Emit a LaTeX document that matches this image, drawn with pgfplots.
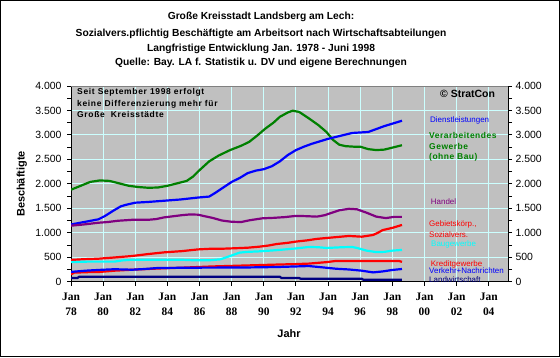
\documentclass[border=0pt]{standalone}
\usepackage{pgfplots}
\pgfplotsset{compat=1.18}
\usepackage{fontspec}
\setmainfont{Liberation Sans}
\newfontfamily\serifb{Liberation Serif}
\newfontfamily\widebold[LetterSpace=6]{Liberation Sans}
\newfontfamily\notebold[LetterSpace=8]{Liberation Sans}
\definecolor{plotgray}{RGB}{192,192,192}
\definecolor{gridcyan}{RGB}{204,255,255}
\definecolor{dgreen}{RGB}{0,128,0}
\definecolor{dpurple}{RGB}{128,0,128}
\definecolor{dnavy}{RGB}{0,0,128}
\definecolor{pcyan}{RGB}{0,255,255}
\definecolor{pblue}{RGB}{0,0,255}
\definecolor{pred}{RGB}{255,0,0}
\definecolor{bordergray}{RGB}{128,128,128}

\pgfplotstableread{
x y
78.0 1880
78.6 1960
79.2 2040
79.8 2070
80.4 2060
81.0 2010
81.6 1960
82.2 1935
82.8 1920
83.4 1925
84.0 1960
84.6 2010
85.2 2060
85.6 2150
86.0 2280
86.6 2460
87.2 2580
87.9 2690
88.6 2780
89.1 2860
89.6 2990
90.1 3130
90.6 3250
91.0 3370
91.5 3460
91.8 3495
92.2 3470
92.8 3340
93.4 3200
93.9 3060
94.3 2900
94.7 2800
95.1 2770
95.6 2760
96.0 2760
96.5 2710
97.0 2690
97.5 2700
98.0 2740
98.6 2790
}\verarb

\pgfplotstableread{
x y
78.0 1170
78.9 1225
79.7 1275
80.1 1340
80.7 1465
81.1 1540
81.4 1570
82.0 1615
82.8 1630
83.8 1655
84.8 1680
85.9 1720
86.6 1740
87.0 1820
87.5 1930
88.0 2040
88.5 2120
89.0 2220
89.5 2270
90.0 2300
90.5 2360
91.0 2460
91.5 2590
92.0 2690
92.5 2760
93.0 2820
93.5 2870
94.0 2920
94.5 2960
95.0 3000
95.5 3040
96.0 3050
96.5 3060
97.0 3120
97.5 3180
98.0 3230
98.6 3290
}\dienst

\pgfplotstableread{
x y
78.0 1145
78.8 1170
79.7 1205
80.3 1220
80.9 1245
81.8 1265
82.8 1265
83.3 1280
83.8 1315
84.3 1335
84.9 1360
85.4 1375
85.9 1370
86.3 1340
86.8 1305
87.4 1250
88.0 1225
88.6 1220
89.1 1255
89.9 1295
90.6 1305
91.3 1320
92.0 1345
92.6 1340
93.3 1330
93.8 1360
94.1 1395
94.7 1460
95.3 1490
95.8 1480
96.4 1410
97.0 1330
97.6 1300
98.1 1325
98.6 1325
}\handel

\pgfplotstableread{
x y
78.0 445
78.8 460
79.7 470
80.7 495
81.8 525
82.8 565
83.8 600
84.9 625
85.9 660
86.8 675
87.5 675
88.3 685
89.0 695
89.7 715
90.3 740
90.8 770
91.5 795
92.0 820
92.7 845
93.3 875
94.3 905
95.3 935
96.1 920
96.8 955
97.1 1000
97.4 1055
98.0 1100
98.6 1160
}\gebiet

\pgfplotstableread{
x y
78.0 400
79.0 410
80.0 410
80.7 410
81.2 435
81.8 450
83.8 450
84.8 450
85.5 440
86.6 437
87.3 457
87.9 525
88.5 595
89.0 610
89.7 620
90.8 645
92.0 680
92.8 710
93.4 705
93.9 690
94.9 705
95.5 710
95.8 690
96.4 635
97.0 605
97.5 610
98.0 635
98.6 650
}\bau

\pgfplotstableread{
x y
78.0 150
78.2 185
79.0 195
79.8 200
80.7 225
81.8 245
82.8 260
83.8 275
84.8 285
85.9 300
86.8 312
88.7 330
90.8 350
92.0 360
92.8 370
93.9 400
94.5 425
96.0 425
98.4 425
98.6 405
}\kredit

\pgfplotstableread{
x y
78.0 200
78.9 225
79.7 240
80.7 255
81.8 245
82.6 260
83.4 280
85.9 287
88.7 290
90.8 300
92.8 320
93.6 295
94.5 265
95.3 250
96.1 225
96.8 190
97.4 210
98.0 240
98.6 260
}\verkehr

\pgfplotstableread{
x y
78.0 75
78.4 75
78.5 100
91.0 100
91.1 75
92.2 75
92.3 60
96.1 60
96.2 40
98.6 40
}\landw

\begin{document}
\begin{tikzpicture}[x=1bp,y=1bp]
\fill[white] (0,0) rectangle (560,357);
\begin{axis}[
  at={(71bp,75.3bp)}, anchor=south west,
  scale only axis, width=437bp, height=195.7bp,
  xmin=78, xmax=105.2, ymin=0, ymax=4000,
  axis background/.style={fill=plotgray},
  axis x line*=bottom, axis y line*=left,
  axis line style={black, line width=1bp, -},
  xtick={78,80,...,104},
  xticklabels={{Jan\\78},{Jan\\80},{Jan\\82},{Jan\\84},{Jan\\86},{Jan\\88},{Jan\\90},{Jan\\92},{Jan\\94},{Jan\\96},{Jan\\98},{Jan\\00},{Jan\\02},{Jan\\04}},
  xticklabel style={align=center, font=\serifb\bfseries\fontsize{11.5}{14.5}\selectfont, yshift=-4bp},
  ytick={0,500,...,4000},
  minor y tick num=1,
  scaled y ticks=false,
  /pgf/number format/1000 sep={.},
  /pgf/number format/assume math mode=true,
  yticklabel style={font=\fontsize{10.5}{12}\selectfont, xshift=-2bp},
  tick align=outside,
  major tick length=4bp, minor tick length=4bp,
  tick style={black, line width=1bp},
  grid=major,
  major grid style={gridcyan, line width=1bp},
  clip=true,
]
\addplot[dgreen, line width=2.2bp] table {\verarb};
\addplot[pblue, line width=2.2bp] table {\dienst};
\addplot[dpurple, line width=2.2bp] table {\handel};
\addplot[pred, line width=2.2bp] table {\gebiet};
\addplot[pcyan, line width=2.2bp] table {\bau};
\addplot[pred, line width=2.2bp] table {\kredit};
\addplot[pblue, line width=2.2bp] table {\verkehr};
\addplot[dnavy, line width=2.2bp] table {\landw};
\draw[bordergray, line width=1bp] (rel axis cs:0,1) -- (rel axis cs:1,1);
\end{axis}
\begin{axis}[
  at={(71bp,75.3bp)}, anchor=south west,
  scale only axis, width=437bp, height=195.7bp,
  xmin=78, xmax=105.2, ymin=0, ymax=4000,
  axis x line=none, axis y line*=right,
  axis line style={black, line width=1bp, -},
  ytick={0,500,...,4000},
  minor y tick num=1,
  scaled y ticks=false,
  /pgf/number format/1000 sep={.},
  /pgf/number format/assume math mode=true,
  yticklabel style={font=\fontsize{10.5}{12}\selectfont},
  tick align=outside,
  major tick length=4bp, minor tick length=4bp,
  tick style={black, line width=1bp},
]
\addplot[draw=none] coordinates {(80,0)};
\end{axis}
% titles
\begin{scope}[every node/.style={inner sep=0pt, font=\bfseries\fontsize{10.3}{12}\selectfont}]
\node at (261,339.7) {Große Kreisstadt Landsberg am Lech:};
\node at (261,323) {Sozialvers.pflichtig Beschäftigte am Arbeitsort nach Wirtschaftsabteilungen};
\node at (261,308.3) {Langfristige Entwicklung Jan. 1978 - Juni 1998};
\node at (261,294) {Quelle: Bay. LA f. Statistik u. DV und eigene Berechnungen};
\end{scope}
\node[font=\bfseries\fontsize{11}{13}\selectfont, rotate=90] at (21.7,173) {Beschäftigte};
\node[font=\bfseries\fontsize{11}{13}\selectfont] at (289,23) {Jahr};
% note
\begin{scope}[every node/.style={inner sep=0pt, anchor=west, font=\notebold\bfseries\fontsize{8.5}{10}\selectfont}]
\node at (77,264.3) {Seit September 1998 erfolgt};
\node at (77,253) {keine Differenzierung mehr für};
\node at (77,242.5) {Große\ \ Kreisstädte};
\end{scope}
\node[inner sep=0pt, anchor=west, font=\bfseries\fontsize{10.5}{12}\selectfont] at (440,263) {© StratCon};
% series labels
\begin{scope}[every node/.style={inner sep=0pt, anchor=west, font=\fontsize{8}{10}\selectfont}]
\node[text=pblue] at (430,236.3) {Dienstleistungen};
\node[text=dgreen, font=\widebold\bfseries\fontsize{8.5}{10}\selectfont] at (429,222) {Verarbeitendes};
\node[text=dgreen, font=\widebold\bfseries\fontsize{8.5}{10}\selectfont] at (429,210.7) {Gewerbe};
\node[text=dgreen, font=\widebold\bfseries\fontsize{8.5}{10}\selectfont] at (429,200) {(ohne Bau)};
\node[text=dpurple] at (430.7,155.3) {Handel};
\node[text=pred] at (429,133) {Gebietskörp.,};
\node[text=pred] at (429,122) {Sozialvers.};
\node[text=pcyan] at (431,113) {Baugewerbe};
\node[text=pred] at (430.7,93) {Kreditgewerbe};
\node[text=pblue] at (429,86) {Verkehr+Nachrichten};
\node[text=dnavy] at (429,77.7) {Landwirtschaft};
\end{scope}
\draw[black, line width=1bp] (0.5,0.5) rectangle (559.5,356.5);
\end{tikzpicture}
\end{document}
